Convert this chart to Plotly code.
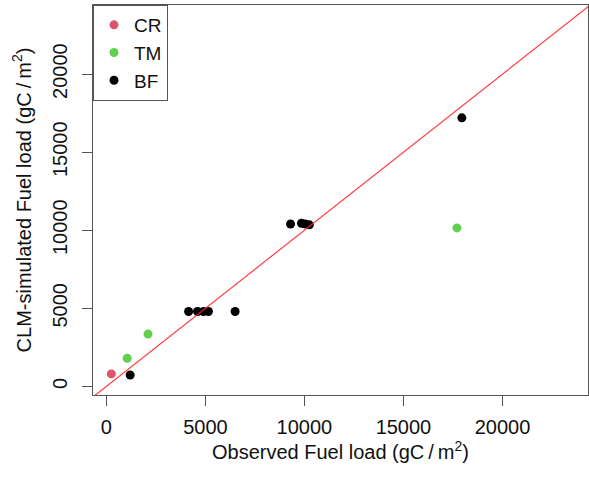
import plotly.graph_objects as go

# Data (observed vs CLM-simulated fuel load, gC/m2)
cr_obs = [250]
cr_sim = [800]
tm_obs = [1050, 2100, 17700]
tm_sim = [1800, 3350, 10150]
bf_obs = [1200, 4150, 4600, 4900, 5150, 6500, 9300, 9850, 10050, 10250, 17950]
bf_sim = [730, 4800, 4800, 4800, 4800, 4800, 10400, 10450, 10400, 10350, 17200]

tick_vals = [0, 5000, 10000, 15000, 20000]
tick_text = ["0", "5000", "10000", "15000", "20000"]
x_range = [-677, 24320]
y_range = [-552, 24430]

FONT = "Liberation Sans, Arial, sans-serif"

fig = go.Figure()
for name, xs, ys, col in [("CR", cr_obs, cr_sim, "#DF536B"),
                          ("TM", tm_obs, tm_sim, "#61D04F"),
                          ("BF", bf_obs, bf_sim, "#000000")]:
    fig.add_trace(go.Scatter(x=xs, y=ys, mode="markers", name=name,
                             marker=dict(color=col, size=9, line=dict(width=0))))

# 1:1 line
lo = min(x_range[0], y_range[0]) - 1000
hi = max(x_range[1], y_range[1]) + 1000
fig.add_shape(type="line", xref="x", yref="y", x0=lo, y0=lo, x1=hi, y1=hi,
              line=dict(color="rgba(255,40,40,0.9)", width=1.2), layer="above")

axis_common = dict(showgrid=False, zeroline=False, showline=True, mirror=True,
                   linecolor="#555", linewidth=1, ticks="outside", ticklen=10,
                   tickcolor="#555", tickvals=tick_vals, ticktext=tick_text,
                   tickfont=dict(family=FONT, size=20, color="#111"))

fig.update_layout(
    width=589, height=477,
    margin=dict(l=93, r=1, t=5, b=82),
    paper_bgcolor="white", plot_bgcolor="white",
    font=dict(family=FONT, size=20, color="#111"),
    xaxis=dict(range=x_range, ticklabelstandoff=4,
               title=dict(text="Observed Fuel load (gC\u2009/\u2009m<sup>2</sup>)",
                          font=dict(family=FONT, size=20, color="#111"), standoff=3),
               **axis_common),
    yaxis=dict(range=y_range, tickangle=-90, ticklabelstandoff=7,
               title=dict(text="CLM-simulated Fuel load (gC\u2009/\u2009m<sup>2</sup>)",
                          font=dict(family=FONT, size=20, color="#111"), standoff=12),
               **axis_common),
    legend=dict(x=0, y=1, xanchor="left", yanchor="top",
                bordercolor="#555", borderwidth=1, bgcolor="white",
                font=dict(family=FONT, size=19, color="#111"),
                itemwidth=30, tracegroupgap=0),
    showlegend=True,
)

fig.write_html("out.html")
